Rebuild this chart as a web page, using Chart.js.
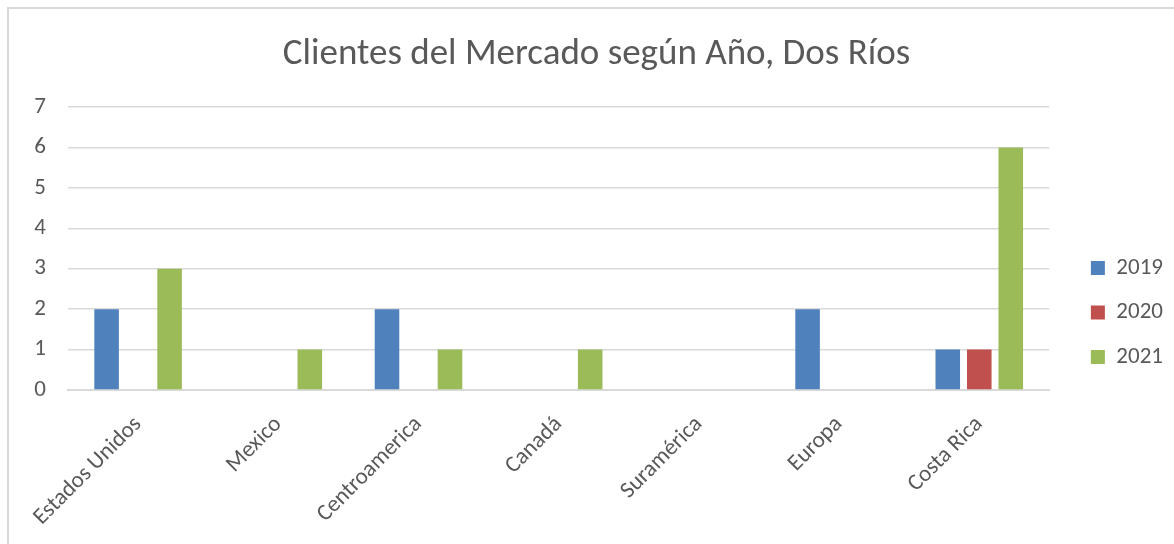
<!DOCTYPE html>
<html>
<head>
<meta charset="utf-8">
<script src="https://cdn.jsdelivr.net/npm/chart.js@4/dist/chart.umd.min.js"></script>
<style>
  html, body { margin: 0; padding: 0; background: #ffffff; overflow: hidden; }
  #wrap { position: relative; width: 1174px; height: 544px; }
</style>
</head>
<body>
<div id="wrap"><canvas id="chart" width="1174" height="544"></canvas></div>
<script>
const categories = ['Estados Unidos', 'Mexico', 'Centroamerica', 'Canadá', 'Suramérica', 'Europa', 'Costa Rica'];
const seriesNames = ['2019', '2020', '2021'];
const values2019 = [2, 0, 2, 0, 0, 2, 1];
const values2020 = [0, 0, 0, 0, 0, 0, 1];
const values2021 = [3, 1, 1, 1, 0, 0, 6];
const yTicks = [0, 1, 2, 3, 4, 5, 6, 7];
const chartTitle = 'Clientes del Mercado según Año, Dos Ríos';

const FONT = "Carlito, Calibri, 'Open Sans', sans-serif";
const TEXT = '#595959';
const GRID = '#d9d9d9';

// Frame around the whole chart object
const framePlugin = {
  id: 'frame',
  beforeDraw(chart) {
    const ctx = chart.ctx;
    ctx.save();
    ctx.fillStyle = '#ffffff';
    ctx.fillRect(0, 0, chart.width, chart.height);
    ctx.strokeStyle = GRID;
    ctx.lineWidth = 2;
    ctx.strokeRect(8, 8, chart.width + 40, chart.height + 40);
    ctx.restore();
  }
};

// Gap between plot area and legend; title centred on the full frame
const LEGEND_GAP = 20;
const TITLE_SHIFT = 15.5;
const boxNudgePlugin = {
  id: 'boxNudge',
  afterLayout(chart) {
    const lg = chart.legend;
    if (lg) { lg.left += LEGEND_GAP; lg.right += LEGEND_GAP; }
    const tt = chart.titleBlock;
    if (tt) { tt.left += TITLE_SHIFT; tt.right += TITLE_SHIFT; }
  }
};

const barStyle = { categoryPercentage: 0.674, barPercentage: 0.78, borderWidth: 0 };

new Chart(document.getElementById('chart'), {
  type: 'bar',
  data: {
    labels: categories,
    datasets: [
      { label: seriesNames[0], data: values2019, backgroundColor: '#4F81BD', ...barStyle },
      { label: seriesNames[1], data: values2020, backgroundColor: '#C0504D', ...barStyle },
      { label: seriesNames[2], data: values2021, backgroundColor: '#9BBB59', ...barStyle }
    ]
  },
  options: {
    responsive: false,
    animation: false,
    layout: { padding: { left: 9, right: 21, top: 0, bottom: 0 } },
    plugins: {
      title: {
        display: true,
        text: chartTitle,
        color: TEXT,
        font: { family: FONT, size: 37, weight: 'normal', lineHeight: 1.2 },
        padding: { top: 33, bottom: 29.6 }
      },
      legend: {
        position: 'right',
        fullSize: false,
        align: 'end',
        labels: {
          color: TEXT,
          font: { family: FONT, size: 23 },
          boxWidth: 14,
          boxHeight: 14,
          padding: 21.5
        }
      },
      tooltip: { enabled: false }
    },
    scales: {
      x: {
        grid: { display: false },
        border: { display: true, color: GRID, width: 2 },
        ticks: {
          color: TEXT,
          font: { family: FONT, size: 23 },
          minRotation: 45,
          maxRotation: 45,
          padding: 13,
          autoSkip: false
        },
        afterFit(scale) { scale.height = 154; }
      },
      y: {
        min: 0,
        max: 7,
        afterBuildTicks(scale) { scale.ticks = yTicks.map(v => ({ value: v })); },
        grid: { color: GRID, lineWidth: 1.5, drawTicks: false },
        border: { display: false },
        ticks: {
          color: TEXT,
          font: { family: FONT, size: 23 },
          padding: 22
        },
        afterFit(scale) { scale.width = 59; }
      }
    }
  },
  plugins: [framePlugin, boxNudgePlugin]
});
</script>
</body>
</html>
